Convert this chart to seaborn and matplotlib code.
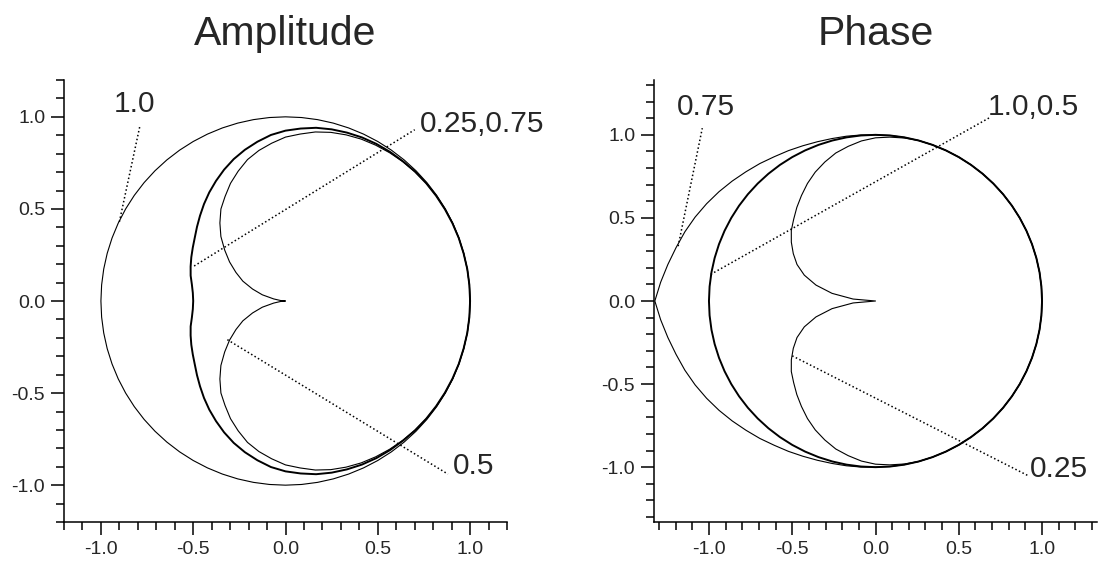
import numpy as np
import pandas as pd
import seaborn as sns
import matplotlib.pyplot as plt
from matplotlib.ticker import MultipleLocator, FormatStrFormatter

# polar radius of each curve (upper half); lower half is mirrored
angles_deg = [0, 5, 10, 15, 20, 25, 30, 35, 40, 45, 50, 55, 60, 65, 70, 75, 80, 85, 90,
              95, 100, 105, 110, 115, 120, 125, 130, 135, 140, 145, 150, 155, 160, 165,
              170, 175, 180]

circle_r = [1.0, 1.0, 1.0, 1.0, 1.0, 1.0, 1.0, 1.0, 1.0, 1.0, 1.0, 1.0, 1.0, 1.0, 1.0,
            1.0, 1.0, 1.0, 1.0, 1.0, 1.0, 1.0, 1.0, 1.0, 1.0, 1.0, 1.0, 1.0, 1.0, 1.0,
            1.0, 1.0, 1.0, 1.0, 1.0, 1.0, 1.0]

amp_mid_r = [1.0, 1.0, 1.0, 0.999, 0.999, 0.998, 0.997, 0.996, 0.995, 0.993, 0.99,
             0.988, 0.985, 0.98, 0.973, 0.965, 0.955, 0.94, 0.925, 0.905, 0.878, 0.85,
             0.82, 0.787, 0.753, 0.72, 0.687, 0.655, 0.626, 0.6, 0.58, 0.563, 0.547,
             0.532, 0.515, 0.504, 0.5]

amp_cusp_r = [1.0, 1.0, 1.0, 0.999, 0.999, 0.999, 0.998, 0.997, 0.995, 0.992, 0.988,
              0.983, 0.977, 0.97, 0.96, 0.948, 0.932, 0.91, 0.89, 0.86, 0.83, 0.795,
              0.75, 0.705, 0.655, 0.61, 0.553, 0.495, 0.43, 0.37, 0.31, 0.255, 0.19,
              0.13, 0.065, 0.025, 0.0]

ph_cusp_r = [1.0, 1.0, 1.0, 1.0, 1.0, 1.0, 1.0, 1.0, 1.0, 1.0, 1.0, 1.0, 1.0, 1.0, 1.0,
             1.0, 0.996, 0.99, 0.982, 0.967, 0.945, 0.922, 0.89, 0.856, 0.817, 0.775,
             0.735, 0.695, 0.66, 0.617, 0.57, 0.52, 0.455, 0.37, 0.265, 0.135, 0.0]

ph_lens_r = [1.0, 1.0, 1.0, 1.0, 1.0, 1.0, 1.0, 1.0, 1.0, 1.0, 1.0, 1.0, 1.0, 1.0, 1.0,
             1.0, 1.0, 1.0, 1.0, 1.003, 1.007, 1.012, 1.02, 1.031, 1.045, 1.06, 1.08,
             1.1, 1.123, 1.147, 1.171, 1.195, 1.218, 1.24, 1.266, 1.295, 1.325]


def closed(radii):
    th = np.deg2rad(angles_deg)
    r = np.asarray(radii)
    th = np.concatenate([th, -th[::-1]])
    r = np.concatenate([r, r[::-1]])
    return pd.DataFrame({"x": r * np.cos(th), "y": r * np.sin(th)})


sns.set_style("ticks")
plt.rcParams["font.family"] = ["Liberation Sans", "DejaVu Sans"]
plt.rcParams["axes.unicode_minus"] = False

fig = plt.figure(figsize=(10.98, 5.71), dpi=100)
ax1 = fig.add_axes([64 / 1098, 49 / 571, 443 / 1098, 442 / 571])
ax2 = fig.add_axes([654 / 1098, 49 / 571, 443 / 1098, 442 / 571])

thin = 0.8
bold = 1.4

for radii, lw in [(circle_r, thin), (amp_mid_r, bold), (amp_cusp_r, thin)]:
    sns.lineplot(data=closed(radii), x="x", y="y", sort=False, estimator=None,
                 color="black", lw=lw, ax=ax1)

for radii, lw in [(circle_r, bold), (ph_lens_r, thin), (ph_cusp_r, thin)]:
    sns.lineplot(data=closed(radii), x="x", y="y", sort=False, estimator=None,
                 color="black", lw=lw, ax=ax2)

dots = (0, (1, 1.6))
lab_size = 21.5

# labels with dotted leader lines
ax1.plot([-0.90, -0.79], [0.43, 0.945], color="black", lw=1.1, ls=dots)
ax1.text(-0.929, 1.027, "1.0", fontsize=lab_size)
ax1.plot([-0.495, 0.70], [0.19, 0.93], color="black", lw=1.1, ls=dots)
ax1.text(0.728, 0.918, "0.25,0.75", fontsize=lab_size)
ax1.plot([-0.315, 0.88], [-0.21, -0.94], color="black", lw=1.1, ls=dots)
ax1.text(0.908, -0.94, "0.5", fontsize=lab_size)

ax2.plot([-1.185, -1.04], [0.33, 1.04], color="black", lw=1.1, ls=dots)
ax2.text(-1.19, 1.122, "0.75", fontsize=lab_size)
ax2.plot([-0.99, 0.686], [0.16, 1.104], color="black", lw=1.1, ls=dots)
ax2.text(0.674, 1.122, "1.0,0.5", fontsize=lab_size)
ax2.plot([-0.50, 0.914], [-0.33, -1.05], color="black", lw=1.1, ls=dots)
ax2.text(0.926, -1.062, "0.25", fontsize=lab_size)

for ax, lim, title in [(ax1, 1.2, "Amplitude"), (ax2, 1.33, "Phase")]:
    ax.set_xlim(-lim, lim)
    ax.set_ylim(-lim, lim)
    ax.set_xlabel("")
    ax.set_ylabel("")
    ax.set_title(title, fontsize=29.5, pad=25)
    for side in ["top", "right"]:
        ax.spines[side].set_visible(False)
    for side in ["left", "bottom"]:
        ax.spines[side].set_linewidth(1.1)
        ax.spines[side].set_color("black")
    ax.xaxis.set_major_locator(MultipleLocator(0.5))
    ax.yaxis.set_major_locator(MultipleLocator(0.5))
    ax.xaxis.set_minor_locator(MultipleLocator(0.1))
    ax.yaxis.set_minor_locator(MultipleLocator(0.1))
    ax.xaxis.set_major_formatter(FormatStrFormatter("%.1f"))
    ax.yaxis.set_major_formatter(FormatStrFormatter("%.1f"))
    ax.tick_params(which="major", direction="out", length=9.5, width=1.1,
                   color="black", labelsize=14, pad=4)
    ax.tick_params(which="minor", direction="out", length=6, width=1.1,
                   color="black")

fig.savefig("out.png", dpi=100)
